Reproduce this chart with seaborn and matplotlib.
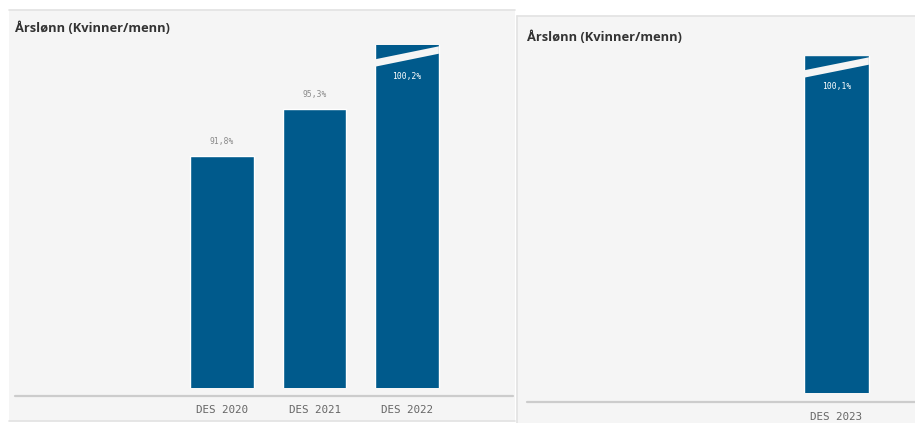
import matplotlib
matplotlib.use("Agg")
import matplotlib.pyplot as plt
import matplotlib.transforms as mtransforms
from matplotlib.patches import Rectangle, Polygon
from matplotlib.lines import Line2D
import seaborn as sns
import pandas as pd

# ---- data ----
title = "Årslønn (Kvinner/menn)"
left_categories = ["DES 2020", "DES 2021", "DES 2022"]
left_values = [91.8, 95.3, 100.2]
left_labels = ["91,8%", "95,3%", "100,2%"]
right_categories = ["DES 2023"]
right_values = [100.1]
right_labels = ["100,1%"]

BAR = "#005a8c"
BG = "#f5f5f5"
W, H = 915, 423

sns.set_theme(style="white")
plt.rcParams["font.family"] = ["DejaVu Sans"]

fig = plt.figure(figsize=(W / 100, H / 100), dpi=100)
fig.patch.set_facecolor("white")


def fx(px):
    return px / W


def fy(py):
    return 1 - py / H


# panel backgrounds
fig.patches.append(Rectangle((fx(9), fy(421)), fx(515) - fx(9), fy(10) - fy(421),
                             transform=fig.transFigure, facecolor=BG, edgecolor="none", zorder=-3))
fig.patches.append(Rectangle((fx(517), 0), 1 - fx(517), fy(16),
                             transform=fig.transFigure, facecolor=BG, edgecolor="none", zorder=-3))
for (x0, y0, x1, y1) in [(9, 10, 515, 10), (9, 421, 515, 421), (517, 16, 915, 16), (516.5, 16, 516.5, 423)]:
    fig.lines.append(Line2D([fx(x0), fx(x1)], [fy(y0), fy(y1)], transform=fig.transFigure,
                            color="#e2e2e2", lw=1.2, zorder=-2))
# baselines
fig.lines.append(Line2D([fx(15), fx(513)], [fy(396), fy(396)], transform=fig.transFigure,
                        color="#cccccc", lw=1.6, zorder=-2))
fig.lines.append(Line2D([fx(527), fx(915)], [fy(402), fy(402)], transform=fig.transFigure,
                        color="#cccccc", lw=1.6, zorder=-2))

# titles
for (tx, ty) in [(15, 28), (527, 37)]:
    fig.text(fx(tx), fy(ty), title, fontsize=9.3, fontweight="bold", family=["Open Sans", "DejaVu Sans"],
             color="#333333", va="center", ha="left")

YMIN, YMAX = 74.6, 100.05


def draw_panel(rect, cats, vals, labels, xlim, tick_pad):
    ax = fig.add_axes(rect, zorder=2)
    ax.set_facecolor("none")
    df = pd.DataFrame({"cat": cats, "val": vals})
    sns.barplot(data=df, x="cat", y="val", color=BAR, width=0.69, saturation=1, ax=ax)
    ax.set_ylim(YMIN, YMAX)
    ax.set_xlim(*xlim)
    for s in ax.spines.values():
        s.set_visible(False)
    ax.set_yticks([])
    ax.set_xlabel("")
    ax.set_ylabel("")
    ax.tick_params(axis="x", length=0, pad=tick_pad, labelsize=7.8, labelcolor="#666666")
    for t in ax.get_xticklabels():
        t.set_family("DejaVu Sans Mono")
    trans = mtransforms.blended_transform_factory(ax.transData, ax.transAxes)
    hpx = rect[3] * H
    for p, v, lab in zip(ax.patches, vals, labels):
        xc = p.get_x() + p.get_width() / 2
        if v > YMAX:
            x0, x1 = p.get_x(), p.get_x() + p.get_width()
            y_l, y_r, th = 1 - 18 / hpx, 1 - 5 / hpx, 3.7 / hpx
            ax.add_patch(Polygon([(x0, y_l - th), (x1, y_r - th), (x1, y_r + th), (x0, y_l + th)],
                                 closed=True, transform=trans, facecolor=BG, edgecolor="none",
                                 zorder=5, clip_on=False))
            ax.text(xc, 1 - 31 / hpx, lab, transform=trans, ha="center", va="center",
                    fontsize=5.8, color="white", family="DejaVu Sans Mono", zorder=6)
        else:
            ax.annotate(lab, (xc, v), xytext=(0, 7), textcoords="offset points", ha="center",
                        va="bottom", fontsize=5.8, color="#8a8a8a", family="DejaVu Sans Mono")
    return ax


# left panel: axes from x=15..513 px, y=45..388 px
draw_panel([fx(15), fy(388), fx(513) - fx(15), fy(45) - fy(388)],
           left_categories, left_values, left_labels, (-2.238, 3.146), 12.5)
# right panel: axes from x=527..915 px, y=56..393 px
draw_panel([fx(527), fy(393), 1 - fx(527), fy(56) - fy(393)],
           right_categories, right_values, right_labels, (-3.29, 0.835), 13.5)

fig.savefig("out.png", dpi=100, facecolor="white")
